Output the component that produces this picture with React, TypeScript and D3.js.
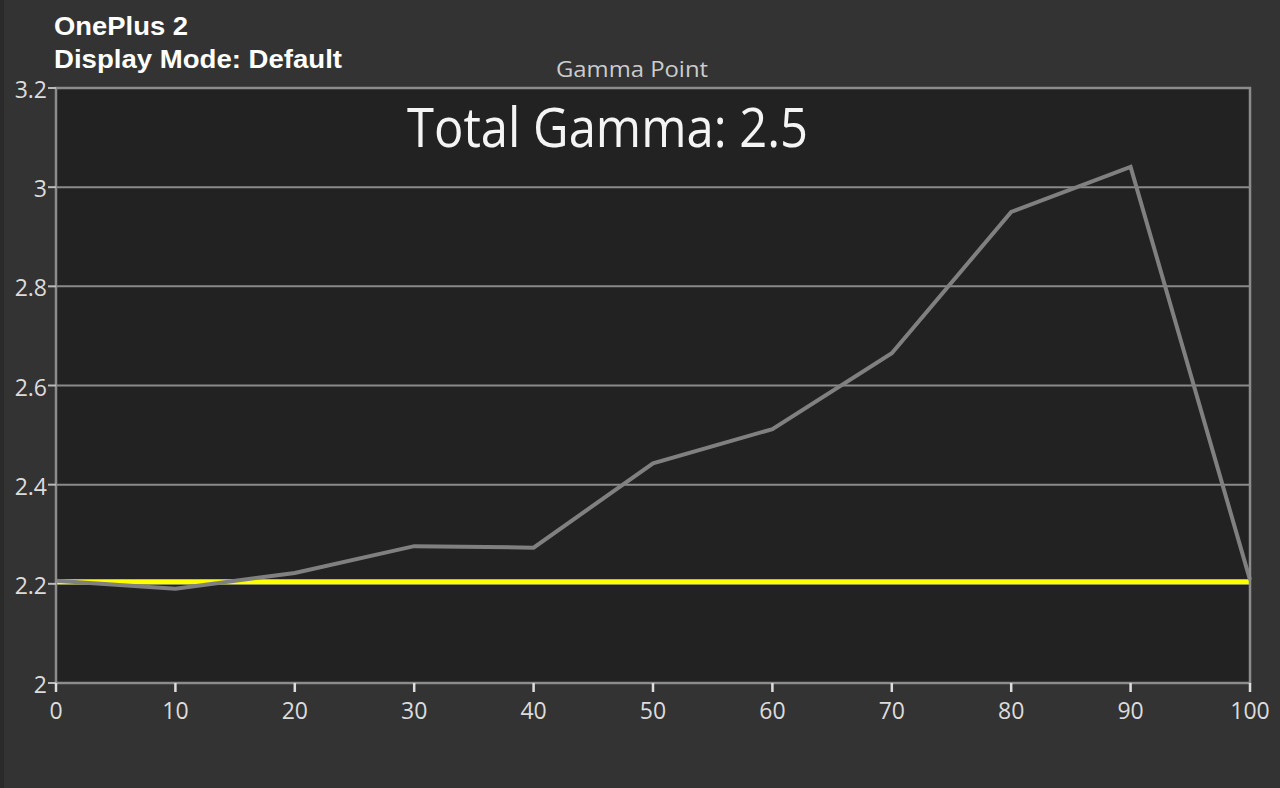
import React from 'react';
import * as d3 from 'd3';

// gamma measured at each grey level (%)
const greyLevels = [0, 10, 20, 30, 40, 50, 60, 70, 80, 90, 100];
const gammaValues = [2.206, 2.19, 2.222, 2.276, 2.273, 2.443, 2.512, 2.665, 2.95, 3.041, 2.208];
const targetGamma = 2.204;

const xTicks = [0, 10, 20, 30, 40, 50, 60, 70, 80, 90, 100];
const yTicks = [2, 2.2, 2.4, 2.6, 2.8, 3, 3.2];

const titleLines = ['OnePlus 2', 'Display Mode: Default'];
const titleWidths = [134, 288];
const axisTitle = 'Gamma Point';
const summaryLabel = 'Total Gamma: 2.5';

const W = 1280;
const H = 788;
const margin = { top: 88, right: 30, bottom: 105, left: 56 };

const App: React.FC = () => {
  const x = d3.scaleLinear().domain([0, 100]).range([margin.left, W - margin.right]);
  const y = d3.scaleLinear().domain([2, 3.2]).range([H - margin.bottom, margin.top]);

  const line = d3.line<number>()
    .x((_, i) => x(greyLevels[i]))
    .y(d => y(d));

  const plotW = x(100) - x(0);
  const plotH = y(2) - y(3.2);
  const font = '"Open Sans", "DejaVu Sans", sans-serif';

  return (
    <svg
      width={W}
      height={H}
      style={{ position: 'absolute', left: 0, top: 0, display: 'block' }}
    >
      <rect width={W} height={H} fill="#333333" />
      <rect width={4} height={H} fill="#2a2a2a" />

      {/* plot background */}
      <rect x={x(0)} y={y(3.2)} width={plotW} height={plotH} fill="#222222" />

      {/* horizontal grid */}
      {yTicks.slice(1, -1).map(t => (
        <line key={t} x1={x(0)} x2={x(100)} y1={y(t)} y2={y(t)} stroke="#8a8a8a" strokeWidth={2} />
      ))}

      {/* target gamma */}
      <line
        x1={x(0)} x2={x(100)}
        y1={y(targetGamma)} y2={y(targetGamma)}
        stroke="#ffff00" strokeWidth={5}
      />

      <path d={line(gammaValues) ?? ''} fill="none" stroke="#808080" strokeWidth={4} strokeLinejoin="miter" />

      {/* frame */}
      <rect x={x(0)} y={y(3.2)} width={plotW} height={plotH} fill="none" stroke="#8c8c8c" strokeWidth={2.5} />

      {/* y axis */}
      {yTicks.map(t => (
        <g key={t}>
          <line x1={x(0) - 8} x2={x(0)} y1={y(t)} y2={y(t)} stroke="#bbbbbb" strokeWidth={2} />
          <text
            x={x(0) - 9} y={y(t) + 10}
            textAnchor="end" fill="#dcdcdc" fontSize={23} fontFamily={font}
          >{t}</text>
        </g>
      ))}

      {/* x axis */}
      {xTicks.map(t => (
        <g key={t}>
          <line x1={x(t)} x2={x(t)} y1={y(2)} y2={y(2) + 9} stroke="#dddddd" strokeWidth={2.5} />
          <text
            x={x(t)} y={y(2) + 36}
            textAnchor="middle" fill="#dcdcdc" fontSize={23} fontFamily={font}
          >{t}</text>
        </g>
      ))}

      <text
        x={556} y={77} fill="#cccccc" fontSize={22} fontFamily={font}
        textLength={152} lengthAdjust="spacingAndGlyphs"
      >{axisTitle}</text>

      <text
        x={407} y={147}
        fill="#f4f4f4" fontSize={54} fontFamily={font}
        textLength={401} lengthAdjust="spacingAndGlyphs"
      >{summaryLabel}</text>

      {titleLines.map((s, i) => (
        <text
          key={s}
          x={54} y={35 + i * 33}
          fill="#ffffff" fontSize={25} fontWeight="bold"
          fontFamily='"Liberation Sans", Arial, sans-serif'
          textLength={titleWidths[i]} lengthAdjust="spacingAndGlyphs"
        >{s}</text>
      ))}
    </svg>
  );
};

export default App;
